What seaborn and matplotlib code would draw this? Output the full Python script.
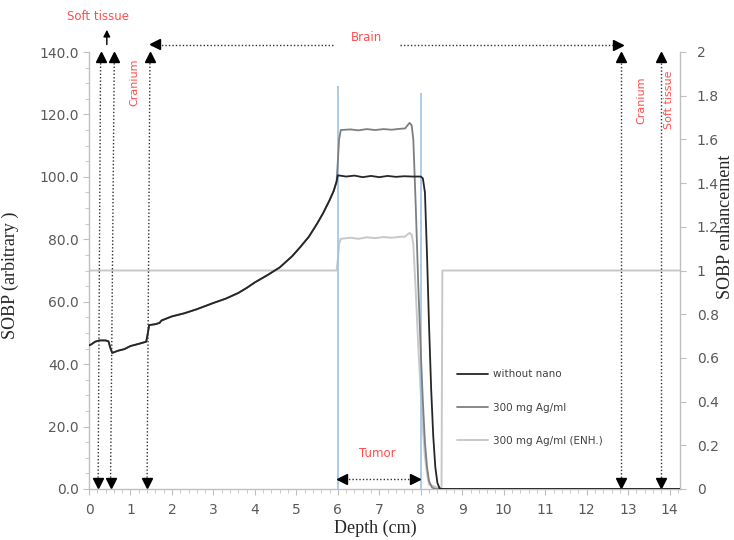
import numpy as np
import pandas as pd
import seaborn as sns
import matplotlib
matplotlib.use("Agg")
import matplotlib.pyplot as plt
from matplotlib.ticker import MultipleLocator, FixedLocator

# SOBP depth profiles
depth_base = [0.0, 0.05, 0.15, 0.25, 0.4, 0.47, 0.52, 0.56, 0.7, 0.85, 1.0, 1.2, 1.38, 1.42, 1.45,
              1.6, 1.7, 1.75, 2.0, 2.3, 2.6, 3.0, 3.3, 3.6, 3.8, 4.0, 4.3, 4.6, 4.9, 5.1, 5.3, 5.5,
              5.65, 5.8, 5.9, 5.97]
sobp_base = [46.0, 46.3, 47.2, 47.6, 47.6, 47.3, 45.0, 43.6, 44.3, 44.8, 45.8, 46.5, 47.2, 50.0, 52.5,
             52.8, 53.2, 54.0, 55.3, 56.3, 57.6, 59.6, 61.0, 62.8, 64.4, 66.2, 68.5, 71.0, 74.6, 77.6,
             80.8, 85.0, 88.5, 92.5, 95.5, 98.5]

depth_nano_tail = [6.0, 6.2, 6.4, 6.6, 6.8, 7.0, 7.2, 7.4, 7.6, 7.8, 8.0, 8.05, 8.1, 8.15, 8.2,
                   8.25, 8.3, 8.35, 8.4, 8.45, 8.5, 14.25]
sobp_nano_tail = [100.5, 100.1, 100.4, 99.9, 100.3, 99.9, 100.3, 100.0, 100.2, 100.1, 100.1, 99.5, 95.0,
                  75.0, 52.0, 32.0, 17.0, 7.0, 2.0, 0.3, 0.0, 0.0]

depth_ag_tail = [6.0, 6.03, 6.07, 6.3, 6.5, 6.7, 6.9, 7.1, 7.3, 7.5, 7.62, 7.68, 7.73, 7.78, 7.82,
                 7.88, 7.94, 8.0, 8.05, 8.1, 8.15, 8.2, 8.27, 8.35, 14.25]
sobp_ag_tail = [105.0, 112.0, 115.0, 115.2, 114.9, 115.3, 115.0, 115.3, 115.1, 115.4, 115.5, 116.5,
                117.3, 116.5, 112.0, 90.0, 65.0, 44.0, 28.0, 15.0, 7.0, 2.5, 0.5, 0.0, 0.0]

depth_enh = [0.0, 5.97, 6.0, 6.03, 6.07, 6.3, 6.5, 6.7, 6.9, 7.1, 7.3, 7.5, 7.62, 7.68, 7.73, 7.78,
             7.82, 7.88, 7.94, 8.0, 8.05, 8.1, 8.15, 8.2, 8.5, 8.52, 14.25]
enh = [1.0, 1.0, 1.05, 1.12, 1.145, 1.15, 1.145, 1.152, 1.148, 1.153, 1.15, 1.154, 1.155, 1.165,
       1.172, 1.165, 1.12, 0.9, 0.65, 0.44, 0.28, 0.15, 0.07, 0.02, 0.0, 1.0, 1.0]

tumor_edges = [6.0, 8.0]
tumor_tops = [129.0, 127.0]

# region markers (depth, cm)
arrow_bottom_x = [0.22, 0.52, 1.40, 12.82, 13.8]
arrow_top_x = [0.28, 0.61, 1.47, 12.82, 13.8]

x_ticks = list(range(0, 15))
left_ticks = [0, 20, 40, 60, 80, 100, 120, 140]
right_ticks = [0, 0.2, 0.4, 0.6, 0.8, 1.0, 1.2, 1.4, 1.6, 1.8, 2.0]
right_labels = ["0", "0.2", "0.4", "0.6", "0.8", "1", "1.2", "1.4", "1.6", "1.8", "2"]

df_nano = pd.DataFrame({"depth": depth_base + depth_nano_tail, "sobp": sobp_base + sobp_nano_tail})
df_ag = pd.DataFrame({"depth": depth_base + depth_ag_tail, "sobp": sobp_base + sobp_ag_tail})
df_enh = pd.DataFrame({"depth": depth_enh, "enh": enh})

# style
sns.set_style("ticks")
plt.rcParams["font.family"] = ["DejaVu Sans"]
grey_txt = "#595959"
grey_ax = "#BFBFBF"
red = "#FF4D4D"

fig = plt.figure(figsize=(7.34, 5.4), dpi=100)
ax = fig.add_axes([89 / 734, 51 / 540, 591 / 734, 437 / 540])
ax2 = ax.twinx()

sns.lineplot(data=df_nano, x="depth", y="sobp", sort=False, estimator=None, color="#262626",
             lw=1.3, ax=ax, label="without nano", zorder=4)
sns.lineplot(data=df_ag, x="depth", y="sobp", sort=False, estimator=None, color="#7F7F7F",
             lw=1.3, ax=ax, label="300 mg Ag/ml", zorder=3)
sns.lineplot(data=df_enh, x="depth", y="enh", sort=False, estimator=None, color="#C8C8C8",
             lw=1.4, ax=ax2, label="300 mg Ag/ml (ENH.)", zorder=2)

# tumour borders
ax.vlines(tumor_edges, 0, tumor_tops, color="#9DC3E6", lw=1.2, zorder=2)

ax.set_xlim(0, 14.25)
ax.set_ylim(0, 140)
ax2.set_ylim(0, 2)

# vertical region arrows
for xb, xt in zip(arrow_bottom_x, arrow_top_x):
    ax.plot([xb, xt], [2.5, 138.5], ls=(0, (1, 1.5)), color="#303030", lw=1.0, clip_on=False)
    ax.plot([xb], [2.0], marker="v", ms=7, color="black", clip_on=False)
    ax.plot([xt], [138.3], marker="^", ms=7, color="black", clip_on=False)

# brain arrow (split round the label)
brain_segments = [[1.5, 5.9], [7.5, 12.7]]
for seg in brain_segments:
    ax.plot(seg, [142.3, 142.3], ls=(0, (1, 1.5)), color="#303030", lw=1.0, clip_on=False)
ax.plot([1.58], [142.5], marker="<", ms=7, color="black", clip_on=False)
ax.plot([12.75], [142.3], marker=">", ms=7, color="black", clip_on=False)
ax.text(6.7, 144.8, "Brain", color=red, fontsize=8.5, ha="center", va="center")

# tumour arrow
ax.plot(tumor_edges, [3.2, 3.2], ls=(0, (1, 1.5)), color="#303030", lw=1.0)
ax.plot([6.1], [3.2], marker="<", ms=7, color="black")
ax.plot([7.85], [3.2], marker=">", ms=7, color="black")
ax.text(6.96, 11.5, "Tumor", color=red, fontsize=8.5, ha="center", va="center")

# labels of the tissue layers
ax.annotate("", xy=(0.43, 148.0), xytext=(0.43, 141.5),
            arrowprops=dict(arrowstyle="-|>", color="black", lw=1.0, mutation_scale=10),
            annotation_clip=False)
ax.text(0.22, 151.5, "Soft tissue", color=red, fontsize=8.5, ha="center", va="center")
ax.text(1.1, 130.4, "Cranium", color=red, fontsize=8, rotation=90, ha="center", va="center")
ax.text(13.32, 124.6, "Cranium", color=red, fontsize=8, rotation=90, ha="center", va="center")
ax.text(13.98, 124.6, "Soft tissue", color=red, fontsize=8, rotation=90, ha="center", va="center")

# axes formatting
ax.xaxis.set_major_locator(FixedLocator(x_ticks))
ax.xaxis.set_minor_locator(MultipleLocator(0.2))
ax.yaxis.set_major_locator(FixedLocator(left_ticks))
ax.yaxis.set_minor_locator(MultipleLocator(5))
ax.set_yticklabels([f"{v:.1f}" for v in left_ticks])
ax2.yaxis.set_major_locator(FixedLocator(right_ticks))
ax2.set_yticklabels(right_labels)

for a in (ax, ax2):
    a.spines["top"].set_visible(False)
    for s in ("left", "right", "bottom"):
        a.spines[s].set_color(grey_ax)
        a.spines[s].set_linewidth(1.0)
ax.spines["right"].set_visible(False)
ax2.spines["left"].set_visible(False)
ax2.spines["bottom"].set_visible(False)

ax.tick_params(axis="both", which="major", direction="out", length=4, color=grey_ax,
               labelcolor=grey_txt, labelsize=10)
ax.tick_params(axis="both", which="minor", direction="out", length=3, color=grey_ax)
ax.tick_params(axis="x", which="major", pad=6)
ax2.tick_params(axis="y", which="major", direction="out", length=4, color=grey_ax,
                labelcolor=grey_txt, labelsize=10, pad=8)

serif = ["Liberation Serif", "DejaVu Serif"]
ax.set_xlabel("Depth (cm)", family=serif, fontsize=13, color="#262626")
ax.set_ylabel("SOBP (arbitrary )", family=serif, fontsize=13, color="#262626")
ax2.set_ylabel("SOBP enhancement", family=serif, fontsize=13, color="#262626")
ax.xaxis.set_label_coords(0.485, -0.07)
ax.yaxis.set_label_coords(-0.118, 0.49)
ax2.yaxis.set_label_coords(1.062, 0.6)

# legend
h1, l1 = ax.get_legend_handles_labels()
h2, l2 = ax2.get_legend_handles_labels()
if ax2.get_legend():
    ax2.get_legend().remove()
leg = ax.legend(h1 + h2, l1 + l2, loc="upper left", bbox_to_anchor=(0.623, 0.274),
                frameon=False, fontsize=7.5, handlelength=3.0, handletextpad=0.4,
                labelspacing=2.25, borderpad=0, borderaxespad=0)
for t in leg.get_texts():
    t.set_color("#404040")
ax.set_zorder(ax2.get_zorder() + 1)
ax.patch.set_visible(False)

fig.savefig("out.png", dpi=100)
